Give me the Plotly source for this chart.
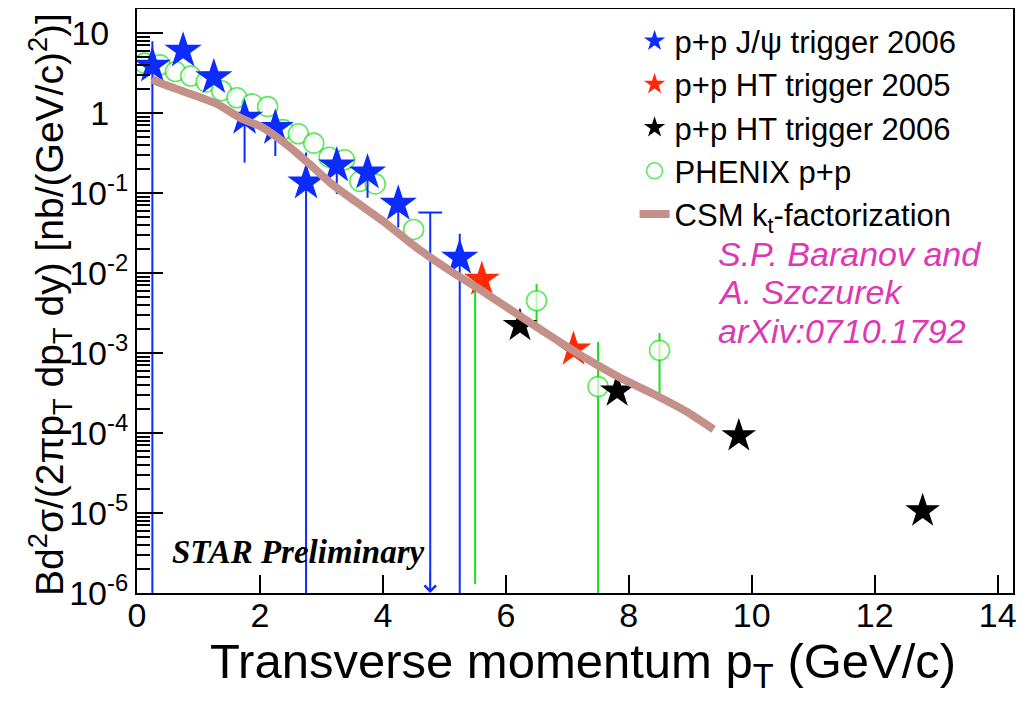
import plotly.graph_objects as go

# STAR J/psi spectrum, p+p 200 GeV
# p+p J/psi trigger 2006 (blue)
jpsi06_pt = [0.25, 0.75, 1.25, 1.75, 2.25, 2.75, 3.25, 3.75, 4.25, 5.25]
jpsi06_y = [3.9, 6.0, 2.8, 0.87, 0.65, 0.135, 0.22, 0.18, 0.073, 0.0155]
jpsi06_hi = [7.9, 6.0, 2.8, 0.87, 0.65, 0.32, 0.32, 0.25, 0.112, 0.031]
jpsi06_lo = [3e-7, 6.0, 2.8, 0.24, 0.29, 3e-7, 0.097, 0.087, 0.037, 3e-7]

# upper limit at 4.75 GeV/c
ul_pt = [4.77]
ul_y = [0.057]

# p+p HT trigger 2005 (red)
ht05_pt = [5.61, 7.10]
ht05_y = [0.0083, 0.00111]

# p+p HT trigger 2006 (black)
ht06_pt = [6.23, 7.81, 9.79, 12.78]
ht06_y = [0.0022, 0.000335, 0.000092, 0.0000106]

# PHENIX p+p (green open circles)
phx_pt = [0.125, 0.375, 0.625, 0.875, 1.125, 1.375, 1.625, 1.875, 2.125, 2.375,
          2.625, 2.875, 3.125, 3.375, 3.625, 3.875, 4.5, 5.5, 6.5, 7.5, 8.5]
phx_y = [4.2, 4.0, 3.3, 2.9, 2.45, 1.9, 1.55, 1.3, 1.2, 0.62,
         0.55, 0.42, 0.28, 0.26, 0.14, 0.13, 0.035, 0.0085, 0.0045, 0.00038, 0.00108]
phx_hi = [4.2, 4.0, 3.3, 2.9, 2.45, 1.9, 1.55, 1.3, 1.2, 0.62,
          0.55, 0.42, 0.28, 0.26, 0.14, 0.13, 0.035, 0.0085, 0.0073, 0.00137, 0.00178]
phx_lo = [4.2, 4.0, 3.3, 2.9, 2.45, 1.9, 1.55, 1.3, 1.2, 0.62,
          0.55, 0.42, 0.28, 0.26, 0.14, 0.13, 0.035, 1.3e-6, 0.002, 3e-7, 0.00031]

# CSM kt-factorization curve
csm_pt = [0.24, 0.42, 0.97, 1.30, 1.68, 2.05, 2.44, 2.82, 3.14, 3.47, 4.00,
          4.55, 5.10, 5.69, 6.23, 6.77, 7.32, 7.86, 8.40, 8.95, 9.38]
csm_y = [2.64, 2.30, 1.63, 1.30, 0.87, 0.655, 0.40, 0.225, 0.135, 0.087, 0.0447,
         0.0207, 0.0106, 0.00546, 0.0029, 0.00155, 0.00084, 0.00049, 0.000307,
         0.000183, 0.000111]

# y axis decades and labels
y_tickvals = [1e-6, 1e-5, 1e-4, 1e-3, 1e-2, 1e-1, 1, 10]
y_ticktext = ['10<sup>-6</sup>', '10<sup>-5</sup>', '10<sup>-4</sup>', '10<sup>-3</sup>',
              '10<sup>-2</sup>', '10<sup>-1</sup>', '1\u2007', '10\u2007']
x_tickvals = [0, 2, 4, 6, 8, 10, 12, 14]

blue = '#0b2bff'
red = '#ff2a05'
green = '#19e019'
brown = '#c4918a'
pink = '#dc38b4'


def plus(y, hi):
    return [h - v for v, h in zip(y, hi)]


def minus(y, lo):
    return [v - l for v, l in zip(y, lo)]


# the 5.5 GeV/c PHENIX circle is hidden under the red star
phx_size = [0 if p == 5.5 else 20 for p in phx_pt]

fig = go.Figure()

fig.add_trace(go.Scatter(
    x=phx_pt, y=phx_y, mode='markers', name='PHENIX p+p', legendrank=4,
    marker=dict(symbol='circle', size=phx_size, color='white',
                line=dict(color=green, width=1.6)),
    error_y=dict(type='data', symmetric=False, array=plus(phx_y, phx_hi),
                 arrayminus=minus(phx_y, phx_lo), color=green, thickness=2, width=0)))

fig.add_trace(go.Scatter(
    x=ht06_pt, y=ht06_y, mode='markers', name='p+p HT trigger 2006', legendrank=3,
    marker=dict(symbol='star', size=26, color='black', line=dict(width=0))))

fig.add_trace(go.Scatter(
    x=ht05_pt, y=ht05_y, mode='markers', name='p+p HT trigger 2005', legendrank=2,
    marker=dict(symbol='star', size=27, color=red, line=dict(width=0))))

fig.add_trace(go.Scatter(
    x=jpsi06_pt, y=jpsi06_y, mode='markers', name='p+p J/ψ trigger 2006', legendrank=1,
    marker=dict(symbol='star', size=28, color=blue, line=dict(width=0)),
    error_y=dict(type='data', symmetric=False, array=plus(jpsi06_y, jpsi06_hi),
                 arrayminus=minus(jpsi06_y, jpsi06_lo), color=blue, thickness=2, width=0)))

# upper limit: cap + line down to the axis
fig.add_trace(go.Scatter(
    x=ul_pt, y=ul_y, mode='markers', showlegend=False,
    marker=dict(symbol='line-ew-open', size=17, color=blue, line=dict(color=blue, width=2)),
    error_y=dict(type='data', symmetric=False, array=[0],
                 arrayminus=[v - 1.05e-6 for v in ul_y], color=blue, thickness=2, width=0)))

fig.add_trace(go.Scatter(
    x=csm_pt, y=csm_y, mode='lines', name='CSM k<sub>t</sub>-factorization', legendrank=5,
    line=dict(color=brown, width=8, shape='spline', smoothing=0.5)))

fig.add_annotation(x=ul_pt[0], y=-6, xref='x', yref='y', ax=0, ay=-22,
                   showarrow=True, arrowhead=4, arrowsize=1.6, arrowwidth=1.4,
                   arrowcolor=blue, text='', standoff=0)

fig.add_annotation(x=0.184, y=0.0702, xref='paper', yref='paper', xanchor='center', yanchor='middle',
                   text='<b><i>STAR Preliminary</i></b>', showarrow=False,
                   font=dict(family='Liberation Serif', size=33, color='black'))

for txt, yp in [('S.P. Baranov and', 0.5805), ('A. Szczurek', 0.5154), ('arXiv:0710.1792', 0.4486)]:
    fig.add_annotation(x=0.661, y=yp, xref='paper', yref='paper', xanchor='left', yanchor='middle',
                       text='<i>' + txt + '</i>', showarrow=False,
                       font=dict(family='Liberation Sans', size=34, color=pink))

# axis titles
fig.add_annotation(x=0.509, y=-0.123, xref='paper', yref='paper', xanchor='center', yanchor='middle',
                   text='Transverse momentum p<sub>T</sub> (GeV/c)', showarrow=False,
                   font=dict(family='Liberation Sans', size=49, color='black'))
fig.add_annotation(x=-0.0993, y=0.4932, xref='paper', yref='paper', xanchor='center', yanchor='middle',
                   textangle=-90, showarrow=False,
                   text='Bd<sup>2</sup>σ/(2πp<sub>T</sub> dp<sub>T</sub> dy) [nb/(GeV/c)<sup>2</sup>)]',
                   font=dict(family='Liberation Sans', size=39, color='black'))

# page body adds an 8px offset, so the figure is 8px smaller than the window
fig.update_layout(
    width=1026, height=693,
    margin=dict(l=129, r=21, t=1, b=108),
    paper_bgcolor='white', plot_bgcolor='white',
    font=dict(family='Liberation Sans', color='black'),
    showlegend=True,
    legend=dict(x=0.568, y=0.991, xanchor='left', yanchor='top',
                font=dict(size=31), bgcolor='rgba(0,0,0,0)', tracegroupgap=0,
                itemwidth=30),
    xaxis=dict(range=[0, 14.25], tickvals=x_tickvals, automargin=False,
               ticks='inside', ticklen=18, tickwidth=1.5, tickcolor='black',
               showline=True, mirror=True, linecolor='black', linewidth=2,
               showgrid=False, zeroline=False, tickfont=dict(size=34),
               ticklabelstandoff=-9),
    yaxis=dict(type='log', range=[-6, 1.3], tickvals=y_tickvals, ticktext=y_ticktext,
               automargin=False,
               ticks='inside', ticklen=26, tickwidth=1.5, tickcolor='black',
               minor=dict(ticks='inside', ticklen=13, tickwidth=1.5, tickcolor='black',
                          showgrid=False, dtick='D1'),
               showline=True, mirror=True, linecolor='black', linewidth=2,
               showgrid=False, zeroline=False, tickfont=dict(size=34)),
)

fig.write_html("out.html")
